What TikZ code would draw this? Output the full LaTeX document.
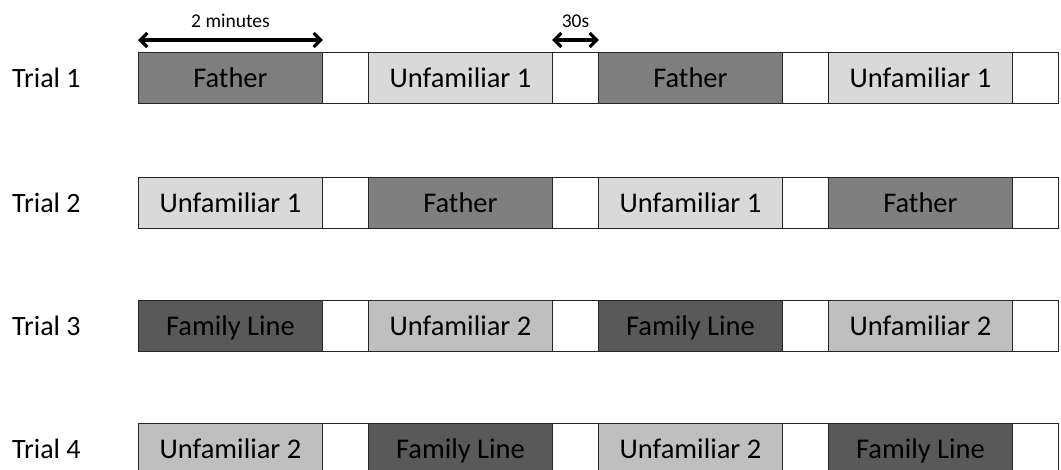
\documentclass[tikz,border=0pt]{standalone}
\usepackage{fontspec}
\setmainfont{Carlito}
\usetikzlibrary{arrows.meta}
\definecolor{cfather}{HTML}{7F7F7F}
\definecolor{cunfa}{HTML}{D9D9D9}
\definecolor{cfam}{HTML}{595959}
\definecolor{cunfb}{HTML}{BFBFBF}
\definecolor{cedge}{HTML}{262626}
\begin{document}
\begin{tikzpicture}[x=1pt,y=-1pt,
  seg/.style={draw=cedge, line width=0.9pt, anchor=north west, minimum height=51pt,
    inner sep=0pt, text height=18.5pt, text depth=0pt, font=\fontsize{28.5}{30}\selectfont},
  longseg/.style={seg, minimum width=184pt},
  gapseg/.style={seg, minimum width=46pt, fill=white},
  fa/.style={longseg, fill=cfather},
  ua/.style={longseg, fill=cunfa},
  fl/.style={longseg, fill=cfam},
  ub/.style={longseg, fill=cunfb},
  trial/.style={anchor=base west, inner sep=0pt, font=\fontsize{28}{30}\selectfont},
  small/.style={inner sep=0pt, font=\fontsize{19.5}{22}\selectfont},
  dur/.style={line width=3.2pt, {Straight Barb[length=7pt,width=14pt,line cap=butt]}-{Straight Barb[length=7pt,width=14pt,line cap=butt]}}]
\useasboundingbox (0,0) rectangle (1061,469);

% Row 1
\node[fa] (r1a) at (138,52) {Father};
\node[gapseg] (r1b) at (322,52) {};
\node[ua] (r1c) at (368,52) {Unfamiliar 1};
\node[gapseg] (r1d) at (552,52) {};
\node[fa] (r1e) at (598,52) {Father};
\node[gapseg] (r1f) at (782,52) {};
\node[ua] (r1g) at (828,52) {Unfamiliar 1};
\node[gapseg] (r1h) at (1012,52) {};
\node[trial] (t1) at (12,87) {Trial 1};

% Row 2
\node[ua] (r2a) at (138,177) {Unfamiliar 1};
\node[gapseg] (r2b) at (322,177) {};
\node[fa] (r2c) at (368,177) {Father};
\node[gapseg] (r2d) at (552,177) {};
\node[ua] (r2e) at (598,177) {Unfamiliar 1};
\node[gapseg] (r2f) at (782,177) {};
\node[fa] (r2g) at (828,177) {Father};
\node[gapseg] (r2h) at (1012,177) {};
\node[trial] (t2) at (12,212) {Trial 2};

% Row 3
\node[fl] (r3a) at (138,300) {Family Line};
\node[gapseg] (r3b) at (322,300) {};
\node[ub] (r3c) at (368,300) {Unfamiliar 2};
\node[gapseg] (r3d) at (552,300) {};
\node[fl] (r3e) at (598,300) {Family Line};
\node[gapseg] (r3f) at (782,300) {};
\node[ub] (r3g) at (828,300) {Unfamiliar 2};
\node[gapseg] (r3h) at (1012,300) {};
\node[trial] (t3) at (12,335) {Trial 3};

% Row 4
\node[ub] (r4a) at (138,423) {Unfamiliar 2};
\node[gapseg] (r4b) at (322,423) {};
\node[fl] (r4c) at (368,423) {Family Line};
\node[gapseg] (r4d) at (552,423) {};
\node[ub] (r4e) at (598,423) {Unfamiliar 2};
\node[gapseg] (r4f) at (782,423) {};
\node[fl] (r4g) at (828,423) {Family Line};
\node[gapseg] (r4h) at (1012,423) {};
\node[trial] (t4) at (12,458) {Trial 4};

% Duration markers
\coordinate (m1) at ([yshift=12pt]r1a.north west);
\coordinate (m2) at ([yshift=12pt]r1a.north east);
\draw[dur] (m1) -- (m2);
\node[small, anchor=base] (lm) at ([yshift=25pt]r1a.north) {2 minutes};

\coordinate (s1) at ([yshift=12pt]r1d.north west);
\coordinate (s2) at ([yshift=12pt]r1d.north east);
\draw[dur] (s1) -- (s2);
\node[small, anchor=base] (ls) at ([yshift=25pt]r1d.north) {30s};
\end{tikzpicture}
\end{document}
